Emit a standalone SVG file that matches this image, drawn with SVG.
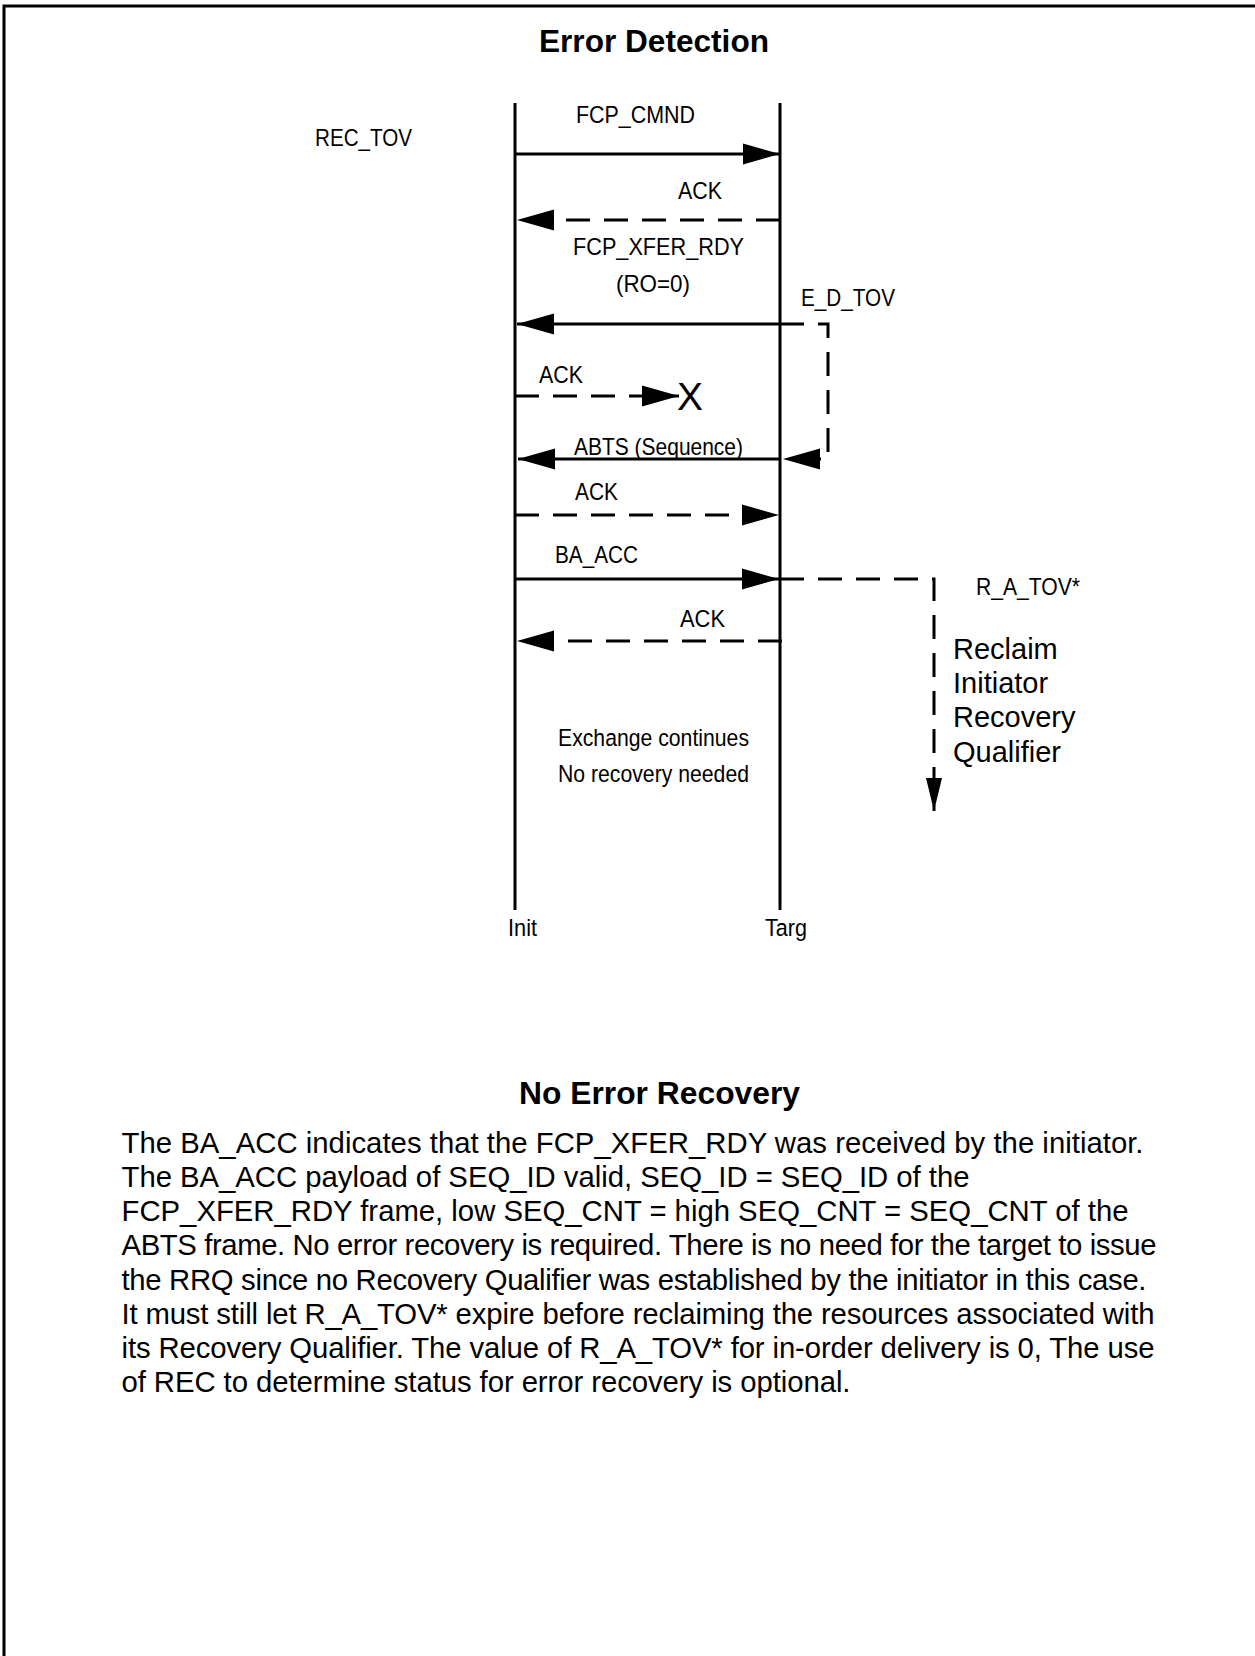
<svg xmlns="http://www.w3.org/2000/svg" width="1255" height="1656" viewBox="0 0 1255 1656">
<style>
text{font-family:"Liberation Sans",Arial,Helvetica,sans-serif;fill:#000}
.lbl{font-size:24.5px}
.big{font-size:29px}
.ttl{font-size:31px;font-weight:bold}
.para{font-size:29.3px}
.life{stroke:#000;stroke-width:3;fill:none}
.sol{stroke:#000;stroke-width:3;fill:none}
.dash{stroke:#000;stroke-width:3;fill:none;stroke-dasharray:24 14}
</style>
<defs>
<marker id="ah" markerUnits="userSpaceOnUse" markerWidth="38" markerHeight="22" refX="37" refY="11" orient="auto" overflow="visible">
<polygon points="0,0.5 37,11 0,21.5" fill="#000"/>
</marker>
<marker id="ahs" markerUnits="userSpaceOnUse" markerWidth="34" markerHeight="18" refX="33" refY="8.5" orient="auto" overflow="visible">
<polygon points="0,0.5 33,8.5 0,16.5" fill="#000"/>
</marker>
</defs>
<rect width="1255" height="1656" fill="#fff"/>
<path id="frame" d="M4,1656 V6 H1255" stroke="#000" stroke-width="3" fill="none"/>

<text id="title1" class="ttl" x="539" y="52" textLength="230" lengthAdjust="spacingAndGlyphs">Error Detection</text>

<g id="init">
<line class="life" x1="515" y1="103" x2="515" y2="910"/>
<text class="lbl" x="508" y="936" textLength="29" lengthAdjust="spacingAndGlyphs">Init</text>
</g>
<g id="targ">
<line class="life" x1="780" y1="103" x2="780" y2="910"/>
<text class="lbl" x="765" y="936" textLength="42" lengthAdjust="spacingAndGlyphs">Targ</text>
</g>

<g id="rec_tov"><text class="lbl" x="315" y="146" textLength="97" lengthAdjust="spacingAndGlyphs">REC_TOV</text></g>
<g id="e_d_tov"><text class="lbl" x="801" y="306" textLength="94" lengthAdjust="spacingAndGlyphs">E_D_TOV</text></g>
<g id="r_a_tov"><text class="lbl" x="976" y="595" textLength="104" lengthAdjust="spacingAndGlyphs">R_A_TOV*</text></g>
<g id="reclaim">
<text class="big" x="953" y="659">Reclaim</text>
<text class="big" x="953" y="693">Initiator</text>
<text class="big" x="953" y="727">Recovery</text>
<text class="big" x="953" y="762">Qualifier</text>
</g>
<g id="exchange">
<text class="lbl" x="558" y="746" textLength="191" lengthAdjust="spacingAndGlyphs">Exchange continues</text>
<text class="lbl" x="558" y="782" textLength="191" lengthAdjust="spacingAndGlyphs">No recovery needed</text>
</g>
<g id="lost"><text x="677" y="410" style="font-size:38px" textLength="26" lengthAdjust="spacingAndGlyphs">X</text></g>

<g id="connectors">
<line class="sol" x1="515" y1="154" x2="780" y2="154" marker-end="url(#ah)"/>
<text class="lbl" x="576" y="123" textLength="119" lengthAdjust="spacingAndGlyphs">FCP_CMND</text>

<line class="dash" x1="780" y1="220" x2="517" y2="220" marker-end="url(#ah)"/>
<text class="lbl" x="678" y="199" textLength="44" lengthAdjust="spacingAndGlyphs">ACK</text>

<line class="sol" x1="780" y1="324" x2="517" y2="324" marker-end="url(#ah)"/>
<text class="lbl" x="573" y="255" textLength="171" lengthAdjust="spacingAndGlyphs">FCP_XFER_RDY</text>
<text class="lbl" x="616" y="292" textLength="74" lengthAdjust="spacingAndGlyphs">(RO=0)</text>

<line class="dash" x1="515" y1="396" x2="679" y2="396" marker-end="url(#ah)"/>
<text class="lbl" x="539" y="383" textLength="44" lengthAdjust="spacingAndGlyphs">ACK</text>

<line class="sol" x1="780" y1="459" x2="518" y2="459" marker-end="url(#ah)"/>
<text class="lbl" x="574" y="455" textLength="169" lengthAdjust="spacingAndGlyphs">ABTS (Sequence)</text>

<path class="dash" d="M780,324 H828 V459 H783" marker-end="url(#ah)"/>

<line class="dash" x1="515" y1="515" x2="779" y2="515" marker-end="url(#ah)"/>
<text class="lbl" x="575" y="500" textLength="43" lengthAdjust="spacingAndGlyphs">ACK</text>

<line class="sol" x1="515" y1="579" x2="779" y2="579" marker-end="url(#ah)"/>
<text class="lbl" x="555" y="563" textLength="83" lengthAdjust="spacingAndGlyphs">BA_ACC</text>

<path class="dash" d="M780,579 H934 V811" marker-end="url(#ahs)"/>

<line class="dash" x1="782" y1="641" x2="517" y2="641" marker-end="url(#ah)"/>
<text class="lbl" x="680" y="627" textLength="45" lengthAdjust="spacingAndGlyphs">ACK</text>
</g>

<text id="title2" class="ttl" x="519" y="1104" textLength="281" lengthAdjust="spacingAndGlyphs">No Error Recovery</text>

<g id="paragraph" class="para">
<text x="121.5" y="1153" textLength="1022">The BA_ACC indicates that the FCP_XFER_RDY was received by the initiator.</text>
<text x="121.5" y="1187" textLength="848">The BA_ACC payload of SEQ_ID valid, SEQ_ID = SEQ_ID of the</text>
<text x="121.5" y="1221" textLength="1007">FCP_XFER_RDY frame, low SEQ_CNT = high SEQ_CNT = SEQ_CNT of the</text>
<text x="121.5" y="1255" textLength="1035">ABTS frame. No error recovery is required. There is no need for the target to issue</text>
<text x="121.5" y="1290" textLength="1025">the RRQ since no Recovery Qualifier was established by the initiator in this case.</text>
<text x="121.5" y="1324" textLength="1033">It must still let R_A_TOV* expire before reclaiming the resources associated with</text>
<text x="121.5" y="1358" textLength="1033">its Recovery Qualifier. The value of R_A_TOV* for in-order delivery is 0, The use</text>
<text x="121.5" y="1392" textLength="729">of REC to determine status for error recovery is optional.</text>
</g>
</svg>
